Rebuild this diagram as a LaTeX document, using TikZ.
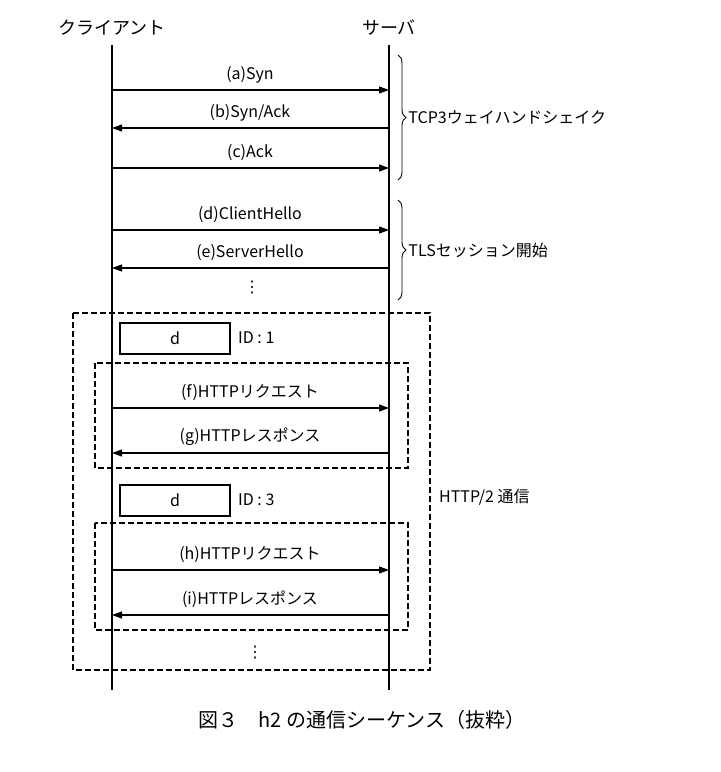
\documentclass[tikz,border=0pt]{standalone}
\usepackage{fontspec}
\setmainfont{Noto Sans CJK JP}
\newfontfamily\djv{DejaVu Sans}
\usetikzlibrary{arrows.meta,decorations.pathreplacing}
\begin{document}
\begin{tikzpicture}[x=1pt,y=-1pt,
  msg/.style={-{Triangle[length=10pt,width=7pt]},line width=1.1pt},
  lbl/.style={font=\fontsize{16}{16}\selectfont,inner sep=1pt},
  dbox/.style={dashed,line width=1.1pt,dash pattern=on 6pt off 3pt},
  tbox/.style={draw,line width=2pt,minimum width=110pt,minimum height=31pt,font=\fontsize{16}{16}\selectfont},
  br/.style={decorate,decoration={brace,amplitude=8pt},line width=0.9pt}]
\useasboundingbox (0,0) rectangle (721,772);
\node[lbl,font=\fontsize{18}{18}\selectfont] (cl) at (112,28) {クライアント};
\node[lbl,font=\fontsize{18}{18}\selectfont] (sv) at (389,28) {サーバ};
\coordinate (c0) at (112,45); \coordinate (c1) at (112,690);
\coordinate (s0) at (389,45); \coordinate (s1) at (389,690);
\draw[line width=1.1pt] (c0)--(c1); \draw[line width=1.1pt] (s0)--(s1);
% messages
\foreach \n/\y/\dd/\t in {a/90/r/{(a)Syn},b/128/l/{(b)Syn/Ack},c/168/r/{(c)Ack},d/230/r/{(d)ClientHello},e/268/l/{(e)ServerHello},f/408/r/{(f)HTTPリクエスト},g/453/l/{(g)HTTPレスポンス},h/570/r/{(h)HTTPリクエスト},i/615/l/{(i)HTTPレスポンス}}{
  \coordinate (L\n) at (112,\y); \coordinate (R\n) at (389,\y);
  \node[lbl,anchor=south] (t\n) at (250,\y-6) {\t};
  \if r\dd \draw[msg] (L\n)--(R\n); \else \draw[msg] (R\n)--(L\n); \fi
}
\node[lbl,font=\djv\fontsize{16}{16}\selectfont] (dots1) at (252,288) {⋮};
\node[lbl,font=\djv\fontsize{16}{16}\selectfont] (dots2) at (255,653) {⋮};
% braces
\coordinate (b1a) at (398,55); \coordinate (b1b) at (398,180);
\draw[br] (b1a)--(b1b) node[midway,right=9pt,lbl] (tcp) {TCP3ウェイハンドシェイク};
\coordinate (b2a) at (398,200); \coordinate (b2b) at (398,300);
\draw[br] (b2a)--(b2b) node[midway,right=9pt,lbl] (tls) {TLSセッション開始};
% boxes
\draw[dbox] (73,313) rectangle (430,670);
\draw[dbox] (95,363) rectangle (408,468);
\draw[dbox] (95,523) rectangle (408,630);
\node[tbox] (d1) at (175,338) {d};
\node[lbl,anchor=west] (id1) at (237,338) {ID : 1};
\node[tbox] (d2) at (175,500) {d};
\node[lbl,anchor=west] (id3) at (237,500) {ID : 3};
\node[lbl,anchor=west] (h2) at (438,497) {HTTP/2 通信};
\node[font=\fontsize{20}{20}\selectfont] (cap) at (362,720) {図３　h2 の通信シーケンス（抜粋）};
\end{tikzpicture}
\end{document}
